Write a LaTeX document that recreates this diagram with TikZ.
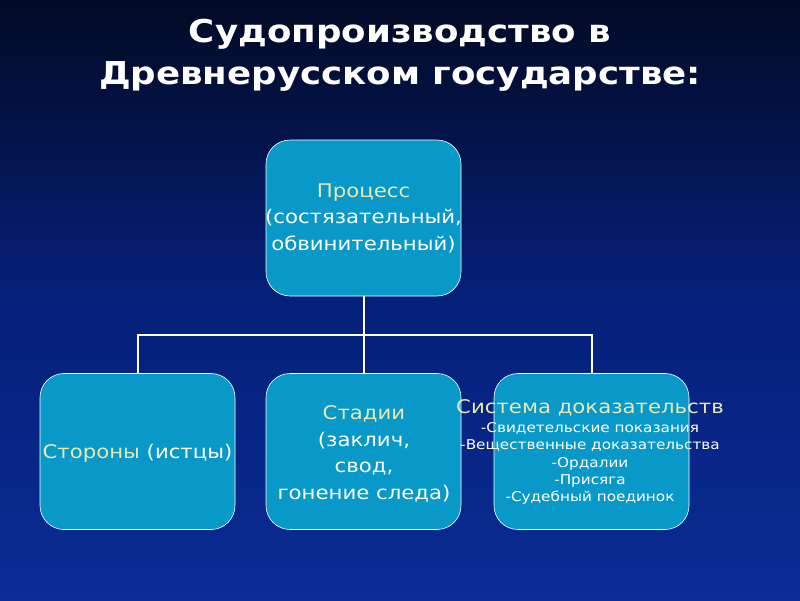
\documentclass[tikz,border=0pt]{standalone}
\usepackage{fontspec}
\setmainfont{DejaVu Sans}[FakeStretch=1.13]
\usepackage{tikz}

\definecolor{boxblue}{HTML}{0899C9}
\definecolor{paleyel}{HTML}{E8E8B4}
\definecolor{bgtop}{HTML}{020A24}
\definecolor{bgmid}{HTML}{05207A}
\definecolor{bgbot}{HTML}{0A2C94}

\tikzset{
  box/.style={draw=white, line width=.6pt, fill=boxblue, rounded corners=24pt,
    minimum width=195pt, minimum height=156pt, inner sep=0pt},
  boxtext/.style={align=center, text=white, inner sep=0pt,
    font=\fontsize{18.8}{26.5}\selectfont},
  smalltext/.style={align=center, text=white, inner sep=0pt,
    font=\fontsize{13.5}{17.2}\selectfont},
  wire/.style={draw=white, line width=2pt}
}

\begin{document}
\begin{tikzpicture}[x=1pt, y=-1pt]
\useasboundingbox (0,0) rectangle (800,600);
\shade [top color=bgtop, bottom color=bgbot, middle color=bgmid] (0,0) rectangle (800,600);

% title
\node (title) [text=white, align=center, font=\bfseries\fontsize{31.5}{42}\selectfont] at (400,55)
  {Судопроизводство в\\Древнерусском государстве:};

% boxes
\node (top) [box] at (363.5,218) {};
\node (left) [box] at (137.5,451.5) {};
\node (mid) [box] at (363.5,451.5) {};
\node (right) [box] at (591.5,451.5) {};

\node (toptext) [boxtext] at (363.5,218) {\textcolor{paleyel}{Процесс}\\(состязательный,\\обвинительный)};
\node (lefttext) [boxtext] at (137.5,453) {\textcolor{paleyel}{Стороны} (истцы)};
\node (midtext) [boxtext] at (364,454) {\textcolor{paleyel}{Стадии}\\(заклич,\\свод,\\гонение следа)};
\node (righthead) [boxtext, text=paleyel] at (590,408) {Система доказательств};
\node (righttext) [smalltext, below=6pt] at (righthead.south) {-Свидетельские показания\\-Вещественные доказательства\\-Ордалии\\-Присяга\\-Судебный поединок};

% connectors
\coordinate (bus) at (top.south |- 0,335);
\draw [wire] (top.south) -- (bus) -- (mid.north);
\draw [wire] (left.north) |- (bus) -| (right.north);
\end{tikzpicture}
\end{document}
